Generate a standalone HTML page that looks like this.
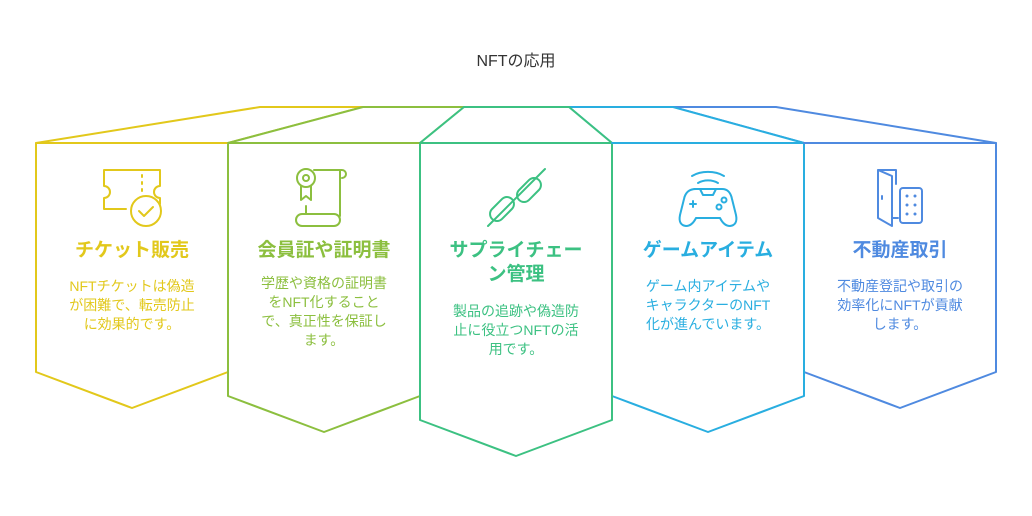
<!DOCTYPE html>
<html><head><meta charset="utf-8"><style>
body{margin:0;background:#fff;width:1032px;height:516px;overflow:hidden;position:relative;font-family:"Liberation Sans","Noto Sans CJK JP",sans-serif}
svg{position:absolute;left:0;top:0}
.t{position:absolute;text-align:center;font-weight:bold;font-size:19px;line-height:24px;white-space:nowrap}
.b{position:absolute;text-align:center;font-size:14px;line-height:19px;white-space:nowrap}
</style></head><body>
<svg width="1032" height="516" fill="none" stroke-width="2" stroke-linejoin="round" stroke-linecap="round">
<text x="516" y="66" text-anchor="middle" font-size="16" fill="#333" stroke="none" font-family="Liberation Sans,Noto Sans CJK JP,sans-serif">NFTの応用</text>
<polygon points="804,143 673,107 776,107 996,143 996,372 900,408 804,372" fill="#fff" stroke="#4f8ae0"/>
<polygon points="612,143 569,107 673,107 804,143 804,396 708,432 612,396" fill="#fff" stroke="#29aee0"/>
<polygon points="36,143 260,107 363,107 228,143 228,372 132,408 36,372" fill="#fff" stroke="#e2c81b"/>
<polygon points="228,143 363,107 464,107 420,143 420,396 324,432 228,396" fill="#fff" stroke="#8cbf3f"/>
<polygon points="420,143 464,107 569,107 612,143 612,420 516,456 420,420" fill="#fff" stroke="#3cc182"/>
<line x1="36" y1="143" x2="228" y2="143" stroke="#e2c81b"/>
<line x1="228" y1="143" x2="420" y2="143" stroke="#8cbf3f"/>
<line x1="420" y1="143" x2="612" y2="143" stroke="#3cc182"/>
<line x1="612" y1="143" x2="804" y2="143" stroke="#29aee0"/>
<line x1="804" y1="143" x2="996" y2="143" stroke="#4f8ae0"/>
<g stroke="#e2c81b">
<path d="M104,170 H160 V186 a6,6 0 0 0 0,12 V204 M126,209 H104 V198 a6,6 0 0 0 0,-12 V170"/>
<path d="M142,175 v2 M142,182 v2 M142,189 v2"/>
<circle cx="146" cy="211" r="15"/><path d="M139,211 l5,5 l9,-9"/>
</g>
<g stroke="#8cbf3f">
<circle cx="306" cy="178" r="9"/><circle cx="306" cy="178" r="3"/>
<path d="M301,186 v14 l5,-4 l5,4 v-14"/>
<path d="M314,170 H342 M342,170 a4,4 0 1 1 0,8 M340,170 V216 M306,206 V214 M302,214 H334 a6,6 0 0 1 0,12 H302 a6,6 0 0 1 0,-12"/>
</g>
<g stroke="#3cc182">
<path d="M488,226 L545,169"/>
<rect x="495" y="195" width="14" height="28" rx="7" transform="rotate(45 502 209)"/>
<rect x="522" y="176" width="14" height="28" rx="7" transform="rotate(45 529 190)"/>
</g>
<g stroke="#29aee0">
<path d="M698,183 a16,12 0 0 1 20,0 M692,176 a24,16 0 0 1 32,0"/>
<path d="M694,189 H722 q8,0 10,10 l4,16 q2,10 -6,11 q-6,0 -10,-8 H696 q-4,8 -10,8 q-8,-1 -6,-11 l4,-16 q2,-10 12,-10z"/>
<path d="M700,189 l3,6 h10 l3,-6 M690,204 h6 M693,201 v6"/>
<circle cx="719" cy="207" r="2.5"/><circle cx="724" cy="200" r="2.5"/>
</g>
<g stroke="#4f8ae0">
<path d="M878,170 H896 V184 M878,170 V218 L892,226 V176 L878,170 M882,196 v3 M892,218 H898"/>
<rect x="900" y="188" width="22" height="35" rx="3"/>
<path d="M907,196 h0 M915,196 h0 M907,205 h0 M915,205 h0 M907,214 h0 M915,214 h0" stroke-width="3"/>
</g>
</svg>
<div class="t" style="left:36px;width:192px;top:239px;color:#e2c81b">チケット販売</div>
<div class="b" style="left:36px;width:192px;top:277px;color:#e2c81b">NFTチケットは偽造<br>が困難で、転売防止<br>に効果的です。</div>
<div class="t" style="left:228px;width:192px;top:239px;color:#8cbf3f">会員証や証明書</div>
<div class="b" style="left:228px;width:192px;top:274px;color:#8cbf3f">学歴や資格の証明書<br>をNFT化すること<br>で、真正性を保証し<br>ます。</div>
<div class="t" style="left:420px;width:192px;top:239px;color:#3cc182">サプライチェー<br>ン管理</div>
<div class="b" style="left:420px;width:192px;top:302px;color:#3cc182">製品の追跡や偽造防<br>止に役立つNFTの活<br>用です。</div>
<div class="t" style="left:612px;width:192px;top:239px;color:#29aee0">ゲームアイテム</div>
<div class="b" style="left:612px;width:192px;top:277px;color:#29aee0">ゲーム内アイテムや<br>キャラクターのNFT<br>化が進んでいます。</div>
<div class="t" style="left:804px;width:192px;top:239px;color:#4f8ae0">不動産取引</div>
<div class="b" style="left:804px;width:192px;top:277px;color:#4f8ae0">不動産登記や取引の<br>効率化にNFTが貢献<br>します。</div>
</body></html>
